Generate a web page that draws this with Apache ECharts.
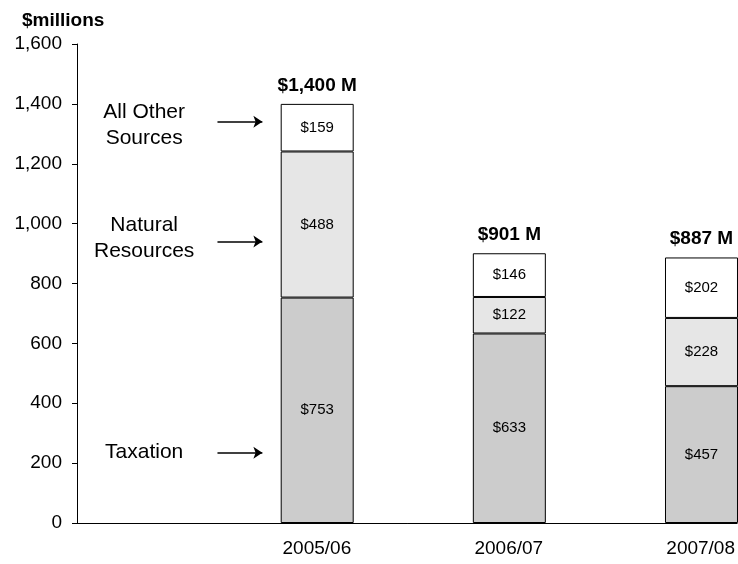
<!DOCTYPE html>
<html>
<head>
<meta charset="utf-8">
<script src="https://cdn.jsdelivr.net/npm/echarts@6/dist/echarts.min.js"></script>
<style>html,body{margin:0;padding:0;background:#fff}#c{width:738px;height:564px}</style>
</head>
<body>
<div id="c"></div>
<script>
// ---- data ----
const categories = ['2005/06', '2006/07', '2007/08'];
const taxation = [753, 633, 457];
const naturalResources = [488, 122, 228];
const otherSources = [159, 146, 202];
const yTicks = [0, 200, 400, 600, 800, 1000, 1200, 1400, 1600];
const annotationTexts = ['All Other\nSources', 'Natural\nResources', 'Taxation'];
// annotation anchor values (y) for text and arrows
const annotationTextY = [1330, 950, 238];
const annotationArrowY = [1340, 940, 235];

const font = '"Liberation Sans", Arial, sans-serif';
// bar grid has a leading empty slot where the annotations sit
const barCats = [''].concat(categories);
const pad = a => [null].concat(a);
const totals = categories.map((_, i) => taxation[i] + naturalResources[i] + otherSources[i]);
const unit = 661 / 3.44; // px per slot, shared by both grids

function barSeries(name, vals, color) {
  return {
    name, type: 'bar', stack: 'total', barWidth: 73, xAxisIndex: 0, yAxisIndex: 0, clip: false,
    data: pad(vals),
    itemStyle: { color, borderColor: '#000', borderWidth: 1 },
    label: { show: true, position: 'inside', fontFamily: font, fontSize: 15, color: '#000',
      textBorderWidth: 0, formatter: p => '$' + p.value },
    emphasis: { disabled: true }, silent: true
  };
}

const chart = echarts.init(document.getElementById('c'), null, { renderer: 'canvas' });
chart.setOption({
  animation: false,
  title: { text: '$millions', left: 17, top: 6,
    textStyle: { fontFamily: font, fontSize: 19, fontWeight: 'bold', color: '#000' } },
  grid: [
    { left: 77 + 0.25 * unit, width: 3 * unit, top: 44, bottom: 41 },
    { left: 77, right: 0, top: 44, bottom: 41 }
  ],
  xAxis: [
    { gridIndex: 0, type: 'category', data: barCats, boundaryGap: false, show: false },
    {
      gridIndex: 1, type: 'value', min: -0.25, max: 3.19,
      axisLine: { show: true, onZero: false, lineStyle: { color: '#000', width: 1 } },
      axisTick: { show: false }, splitLine: { show: false },
      axisLabel: { customValues: [1, 2, 3], margin: 16, fontFamily: font, fontSize: 19, color: '#000',
        formatter: v => categories[Math.round(v) - 1] || '' }
    }
  ],
  yAxis: [
    { gridIndex: 0, type: 'value', min: yTicks[0], max: yTicks[yTicks.length - 1], show: false, splitLine: { show: false } },
    {
      gridIndex: 1, type: 'value', min: yTicks[0], max: yTicks[yTicks.length - 1], interval: 200,
      axisLine: { show: true, onZero: false, lineStyle: { color: '#000', width: 1 } },
      axisTick: { show: true, length: 5, lineStyle: { color: '#000' } },
      splitLine: { show: false },
      axisLabel: { margin: 15, fontFamily: font, fontSize: 19, color: '#000',
        formatter: v => v.toLocaleString('en-US') }
    }
  ],
  series: [
    barSeries('Taxation', taxation, '#cccccc'),
    barSeries('Natural Resources', naturalResources, '#e6e6e6'),
    barSeries('All Other Sources', otherSources, '#ffffff'),
    {
      name: 'totals', type: 'bar', stack: 'total', barWidth: 73, xAxisIndex: 0, yAxisIndex: 0, clip: false,
      data: pad(totals.map(() => 0)),
      itemStyle: { color: 'transparent', borderWidth: 0 },
      label: { show: true, position: 'top', distance: 9, fontFamily: font, fontSize: 19,
        fontWeight: 'bold', color: '#000',
        formatter: p => '$' + totals[p.dataIndex - 1].toLocaleString('en-US') + ' M' },
      emphasis: { disabled: true }, silent: true
    },
    {
      name: 'annotations', type: 'scatter', xAxisIndex: 1, yAxisIndex: 1,
      symbolSize: 0, itemStyle: { color: '#000', opacity: 1 },
      data: annotationTexts.map((t, i) => ({ value: [0.10, annotationTextY[i]], name: t })),
      label: { show: true, position: 'inside', fontFamily: font, fontSize: 21, color: '#000',
        opacity: 1, textBorderWidth: 0, lineHeight: 26, align: 'center', formatter: p => p.name },
      emphasis: { disabled: true }, silent: true,
      markLine: {
        silent: true, symbol: ['none', 'arrow'], symbolSize: 9,
        lineStyle: { color: '#000', width: 1.5, type: 'solid', opacity: 1 },
        label: { show: false }, emphasis: { disabled: true },
        data: annotationArrowY.map(y => [{ coord: [0.482, y] }, { coord: [0.716, y] }])
      }
    }
  ]
});
</script>
</body>
</html>
